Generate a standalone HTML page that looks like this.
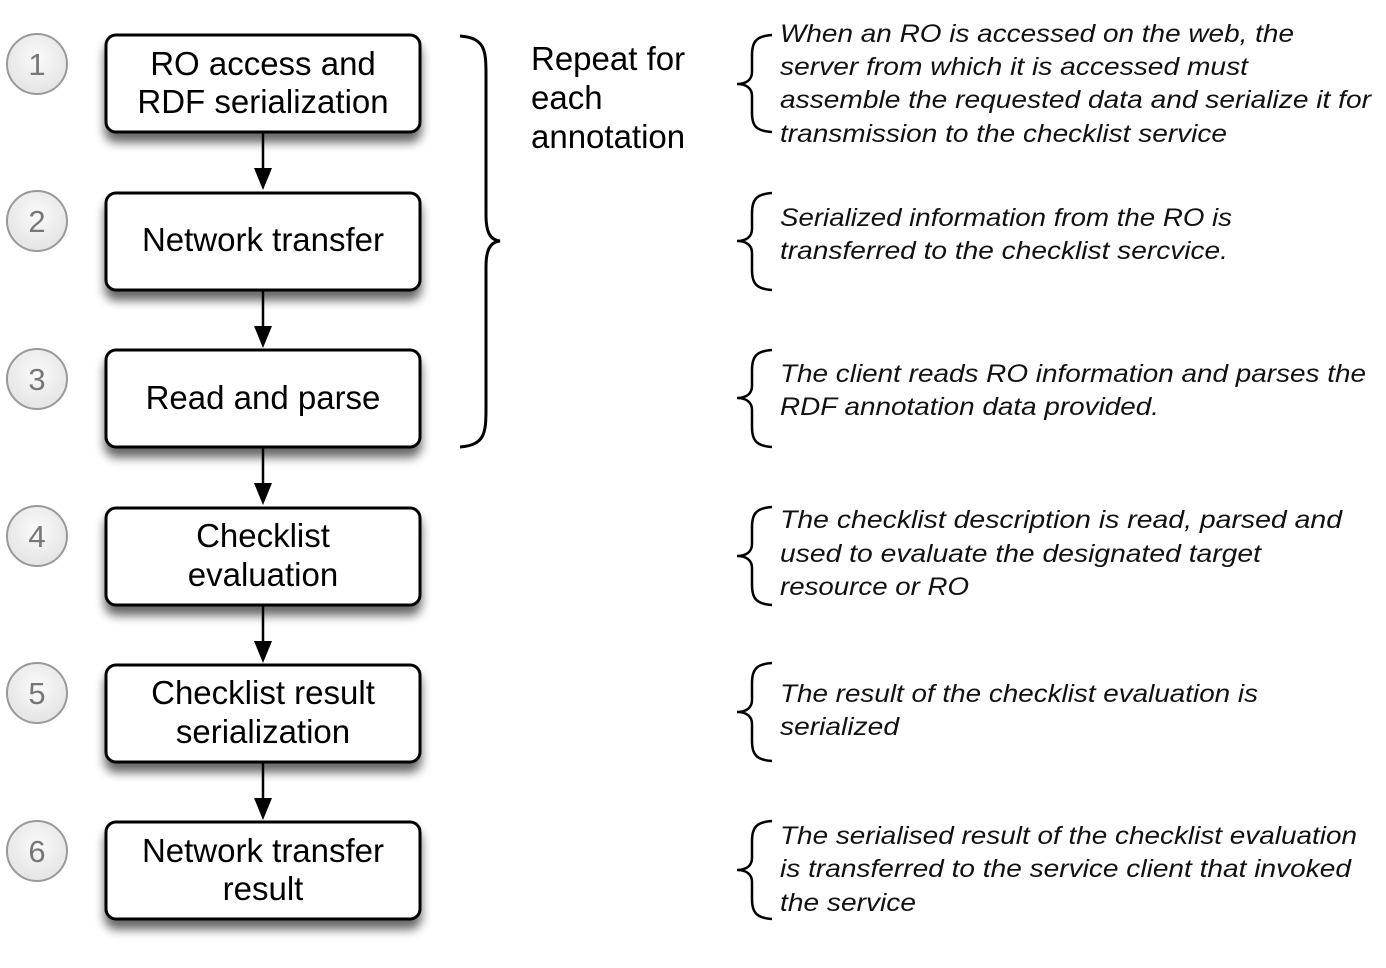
<!DOCTYPE html>
<html><head><meta charset="utf-8"><style>body{margin:0;background:#fff}</style></head><body>
<svg width="1386" height="963" xmlns="http://www.w3.org/2000/svg" font-family="Liberation Sans, sans-serif">
<defs>
<filter id="sh" x="-10%" y="-10%" width="130%" height="150%"><feGaussianBlur in="SourceAlpha" stdDeviation="5"/><feOffset dx="0" dy="9"/><feComponentTransfer><feFuncA type="linear" slope="0.6"/></feComponentTransfer><feMerge><feMergeNode/><feMergeNode in="SourceGraphic"/></feMerge></filter>
<radialGradient id="cg" cx="50%" cy="40%" r="60%"><stop offset="0" stop-color="#fafafa"/><stop offset="1" stop-color="#e4e4e4"/></radialGradient>
</defs>
<g stroke="#000" stroke-width="2.5" fill="none">
<line x1="263" y1="132" x2="263" y2="172"/><line x1="263" y1="290" x2="263" y2="330"/><line x1="263" y1="447" x2="263" y2="487"/><line x1="263" y1="605" x2="263" y2="645"/><line x1="263" y1="762" x2="263" y2="802"/>
</g>
<g fill="#000">
<polygon points="254,168 272,168 263,190"/><polygon points="254,326 272,326 263,348"/><polygon points="254,483 272,483 263,505"/><polygon points="254,641 272,641 263,663"/><polygon points="254,798 272,798 263,820"/>
</g>
<g fill="#fff" stroke="#000" stroke-width="3" filter="url(#sh)">
<rect x="106" y="35" width="314" height="97" rx="10"/>
<rect x="106" y="193" width="314" height="97" rx="10"/>
<rect x="106" y="350" width="314" height="97" rx="10"/>
<rect x="106" y="508" width="314" height="97" rx="10"/>
<rect x="106" y="665" width="314" height="97" rx="10"/>
<rect x="106" y="822" width="314" height="97" rx="10"/>
</g>
<g font-size="33" text-anchor="middle" fill="#000">
<text x="263" y="75">RO access and</text><text x="263" y="113">RDF serialization</text>
<text x="263" y="251">Network transfer</text>
<text x="263" y="409">Read and parse</text>
<text x="263" y="547">Checklist</text><text x="263" y="586">evaluation</text>
<text x="263" y="704">Checklist result</text><text x="263" y="743">serialization</text>
<text x="263" y="862">Network transfer</text><text x="263" y="900">result</text>
</g>
<g fill="url(#cg)" stroke="#999" stroke-width="2">
<circle cx="37" cy="64" r="30"/><circle cx="37" cy="221" r="30"/><circle cx="37" cy="379" r="30"/><circle cx="37" cy="536" r="30"/><circle cx="37" cy="693" r="30"/><circle cx="37" cy="851" r="30"/>
</g>
<g font-size="31" text-anchor="middle" fill="#777">
<text x="37" y="75">1</text><text x="37" y="232">2</text><text x="37" y="390">3</text><text x="37" y="547">4</text><text x="37" y="704">5</text><text x="37" y="862">6</text>
</g>
<path d="M460,36 C485,38 486,50 486,75 L486,215 C486,232 490,240 500,241 C490,242 486,250 486,267 L486,408 C486,433 485,445 460,447" fill="none" stroke="#000" stroke-width="3"/>
<g font-size="33" fill="#000"><text x="531" y="70">Repeat for</text><text x="531" y="109">each</text><text x="531" y="148">annotation</text></g>
<g fill="none" stroke="#000" stroke-width="2.5">
<path d="M772,35 C756,36 752,42 752,55 L752,72 C752,80 746,84 737,84 C746,84 752,88 752,96 L752,113 C752,126 756,131 772,132"/>
<path d="M772,193 C756,194 752,200 752,213 L752,229 C752,237 746,241 737,241 C746,241 752,245 752,253 L752,270 C752,283 756,289 772,290"/>
<path d="M772,350 C756,351 752,357 752,370 L752,386 C752,394 746,398 737,398 C746,398 752,402 752,410 L752,427 C752,440 756,446 772,447"/>
<path d="M772,507 C756,508 752,514 752,527 L752,544 C752,552 746,556 737,556 C746,556 752,560 752,568 L752,585 C752,598 756,604 772,605"/>
<path d="M772,663 C756,664 752,670 752,683 L752,700 C752,708 746,712 737,712 C746,712 752,716 752,724 L752,741 C752,754 756,760 772,761"/>
<path d="M772,821 C756,822 752,828 752,841 L752,858 C752,866 746,870 737,870 C746,870 752,874 752,882 L752,899 C752,912 756,918 772,919"/>
</g>
<g font-size="25" font-style="italic" fill="#111">
<text x="780" y="42" textLength="514" lengthAdjust="spacingAndGlyphs">When an RO is accessed on the web, the</text>
<text x="780" y="75" textLength="468" lengthAdjust="spacingAndGlyphs">server from which it is accessed must</text>
<text x="780" y="108" textLength="591" lengthAdjust="spacingAndGlyphs">assemble the requested data and serialize it for</text>
<text x="780" y="142" textLength="447" lengthAdjust="spacingAndGlyphs">transmission to the checklist service</text>
<text x="780" y="226" textLength="452" lengthAdjust="spacingAndGlyphs">Serialized information from the RO is</text>
<text x="780" y="259" textLength="448" lengthAdjust="spacingAndGlyphs">transferred to the checklist sercvice.</text>
<text x="780" y="382" textLength="586" lengthAdjust="spacingAndGlyphs">The client reads RO information and parses the</text>
<text x="780" y="415" textLength="379" lengthAdjust="spacingAndGlyphs">RDF annotation data provided.</text>
<text x="780" y="528" textLength="562" lengthAdjust="spacingAndGlyphs">The checklist description is read, parsed and</text>
<text x="780" y="562" textLength="481" lengthAdjust="spacingAndGlyphs">used to evaluate the designated target</text>
<text x="780" y="595" textLength="189" lengthAdjust="spacingAndGlyphs">resource or RO</text>
<text x="780" y="702" textLength="478" lengthAdjust="spacingAndGlyphs">The result of the checklist evaluation is</text>
<text x="780" y="735" textLength="119" lengthAdjust="spacingAndGlyphs">serialized</text>
<text x="780" y="844" textLength="577" lengthAdjust="spacingAndGlyphs">The serialised result of the checklist evaluation</text>
<text x="780" y="877" textLength="571" lengthAdjust="spacingAndGlyphs">is transferred to the service client that invoked</text>
<text x="780" y="911" textLength="136" lengthAdjust="spacingAndGlyphs">the service</text>
</g>
</svg>
</body></html>
